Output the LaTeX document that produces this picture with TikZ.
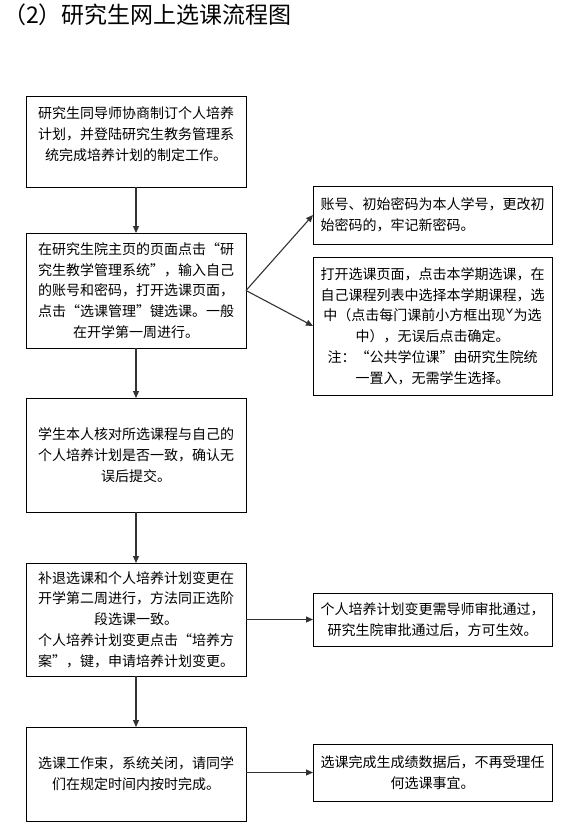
\documentclass[tikz,border=0pt]{standalone}
\usepackage{fontspec}
\setmainfont{Noto Sans CJK SC}
\usetikzlibrary{arrows.meta}
\begin{document}
\begin{tikzpicture}[x=1pt,y=-1pt,
  box/.style={draw, line width=0.9pt, inner sep=0pt, outer sep=0pt, align=center,
    font={\fontsize{14}{20.8}\selectfont}},
  txt/.style={inner sep=0pt, align=center, font={\fontsize{14}{20.8}\selectfont}},
  arr/.style={draw=black!80, line width=1.1pt, -{Triangle[length=7pt,width=6pt]}}]
\useasboundingbox (0,0) rectangle (562,825);
\node[anchor=west, inner sep=0pt, font={\fontsize{23}{26}\selectfont}] (title) at (3,15) {（2）研究生网上选课流程图};

\node[box, minimum width=220pt, minimum height=91pt] (b1) at (136,141.5) {};
\node[txt] (t1) at (136,134) {研究生同导师协商制订个人培养\\计划，并登陆研究生教务管理系\\统完成培养计划的制定工作。};

\node[box, minimum width=220pt, minimum height=115pt] (b2) at (136,290.5) {在研究生院主页的页面点击“研\\究生教学管理系统”，输入自己\\的账号和密码，打开选课页面，\\点击“选课管理”键选课。一般\\在开学第一周进行。};

\node[box, minimum width=220pt, minimum height=114pt] (b3) at (136,455) {学生本人核对所选课程与自己的\\个人培养计划是否一致，确认无\\误后提交。};

\node[box, minimum width=220pt, minimum height=113pt] (b4) at (136,619.5) {补退选课和个人培养计划变更在\\开学第二周进行，方法同正选阶\\段选课一致。\\个人培养计划变更点击“培养方\\案”，键，申请培养计划变更。};

\node[box, minimum width=220pt, minimum height=94pt] (b5) at (136,774) {选课工作束，系统关闭，请同学\\们在规定时间内按时完成。};

\node[box, minimum width=239pt, minimum height=58pt, align=left] (rA) at (432.5,215) {账号、初始密码为本人学号，更改初\\始密码的，牢记新密码。};

\node[box, minimum width=239pt, minimum height=138pt] (rB) at (432.5,326) {打开选课页面，点击本学期选课，在\\自己课程列表中选择本学期课程，选\\中（点击每门课前小方框出现ˇ为选\\中），无误后点击确定。\\注：“公共学位课”由研究生院统\\一置入，无需学生选择。};

\node[box, minimum width=239pt, minimum height=53pt] (rC) at (432.5,619.5) {个人培养计划变更需导师审批通过，\\研究生院审批通过后，方可生效。};

\node[box, minimum width=239pt, minimum height=57pt] (rD) at (432.5,772.5) {选课完成生成绩数据后，不再受理任\\何选课事宜。};

\draw[arr] (b1) -- (b2);
\draw[arr] (b2) -- (b3);
\draw[arr] (b3) -- (b4);
\draw[arr] (b4) -- (b5);
\draw[arr] (b2.east) -- (rA.west);
\draw[arr] (b2.east) -- (rB.west);
\draw[arr] (b4.east) -- (rC.west);
\draw[arr] (b5.east |- rD.west) -- (rD.west);
\end{tikzpicture}
\end{document}
